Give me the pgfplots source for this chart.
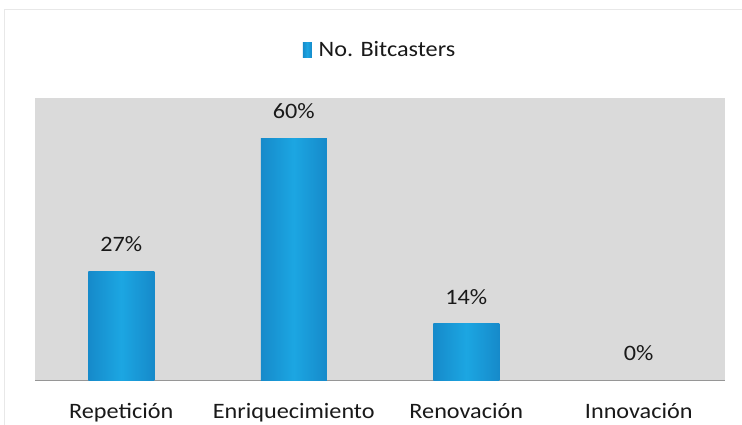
\documentclass[border=0pt]{standalone}
\usepackage{fontspec}
\setmainfont{Carlito}[FakeStretch=1.1]
\usepackage{pgfplots}
\pgfplotsset{compat=1.18}
\definecolor{plotbg}{RGB}{218,218,218}
\definecolor{barMid}{RGB}{28,166,226}
\definecolor{barDark}{RGB}{22,138,202}
\definecolor{axisline}{RGB}{150,150,150}
\definecolor{txt}{RGB}{25,25,25}
\begin{document}
\begin{tikzpicture}[font=\fontsize{22bp}{26bp}\selectfont]
\fill[white] (-35bp,-45bp) rectangle (707bp,380bp);
\path[use as bounding box] (-35bp,-45bp) rectangle (707bp,380bp);
\draw[gray!18, line width=1bp] (-30bp,-45bp) -- (-30bp,370bp) -- (707bp,370bp);
\begin{axis}[
  at={(0,0)}, anchor=south west,
  scale only axis, width=690bp, height=282bp,
  xmin=-0.5, xmax=3.5, ymin=0, ymax=70,
  /pgf/number format/assume math mode=true,
  axis background/.style={fill=plotbg},
  axis y line=none, axis x line*=bottom,
  x axis line style={draw=axisline, line width=1bp, -},
  ytick=\empty,
  xtick={0,1,2,3},
  xticklabels={Repetición, Enriquecimiento, Renovación, Innovación},
  major tick length=0pt,
  xticklabel style={inner sep=0pt, yshift=-23bp, text=txt},
  ybar, bar width=66bp, bar shift=0pt,
  nodes near coords={\pgfmathprintnumber{\pgfplotspointmeta}\%},
  nodes near coords style={inner sep=0pt, yshift=19bp, text=txt, anchor=south},
  legend style={at={(0.5,1)}, anchor=south, yshift=36bp, draw=none, fill=none, legend columns=-1, text=txt},
  legend image code/.code={\fill[barMid] (0bp,-8bp) rectangle (9bp,7bp); \path (14bp,0bp);},
  clip=false,
]
\addplot[draw=none, left color=barDark, right color=barDark, middle color=barMid]
  coordinates {(0,27)};
\addlegendentry{No. Bitcasters}
\addplot[draw=none, left color=barDark, right color=barDark, middle color=barMid, forget plot]
  coordinates {(1,60)};
\addplot[draw=none, left color=barDark, right color=barDark, middle color=barMid, forget plot]
  coordinates {(2,14)};
\addplot[draw=none, fill=none, forget plot]
  coordinates {(3,0)};
\end{axis}
\end{tikzpicture}
\end{document}
